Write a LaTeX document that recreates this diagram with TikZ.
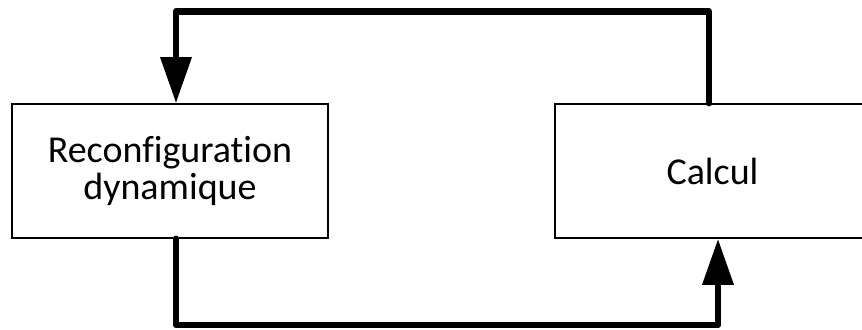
\documentclass[tikz,border=0pt]{standalone}
\usepackage{fontspec}
\setmainfont{Carlito}[Ligatures=NoCommon]
\usetikzlibrary{arrows.meta}
\begin{document}
\begin{tikzpicture}[x=1bp,y=-1bp,
  blockbox/.style={draw=black, fill=white, line width=1.6bp, inner sep=0pt,
    align=center, minimum height=134bp,
    font=\fontsize{38bp}{37bp}\selectfont},
  conn/.style={draw=black, line width=6.5bp, line join=round, line cap=round},
  tipped/.style={-{Triangle[length=46bp,width=30bp]}}]
\useasboundingbox (0,0) rectangle (862,329);
\coordinate (ta) at (176,11.5);
\coordinate (tb) at (709,11.5);
\coordinate (ba) at (176,325);
\coordinate (bb) at (718,325);
\node[blockbox, minimum width=316bp] (A) at (170,171) {Reconfiguration\\dynamique};
\node[blockbox, minimum width=315bp] (B) at (712.5,171) {Calcul};
\draw[conn, tipped] (tb |- B.north) -- (tb) -- (ta) -- (ta |- A.north);
\draw[conn, tipped] (ba |- A.south) -- (ba) -- (bb) -- (bb |- B.south);
\end{tikzpicture}
\end{document}
